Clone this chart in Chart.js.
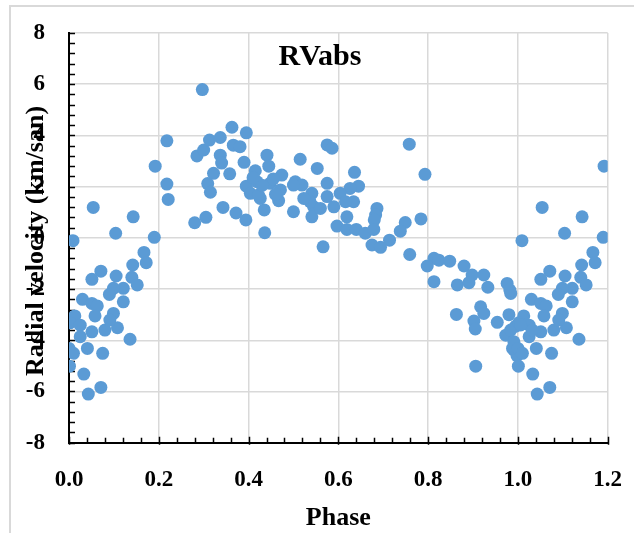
<!DOCTYPE html>
<html>
<head>
<meta charset="utf-8">
<title>RVabs</title>
<script src="https://cdn.jsdelivr.net/npm/chart.js@4.4.1/dist/chart.umd.min.js"></script>
<style>
    html, body { margin: 0; padding: 0; background: #ffffff; }
    #wrap { width: 634px; height: 533px; }
</style>
</head>
<body>
<div id="wrap"><canvas id="rvChart" width="634" height="533"></canvas></div>
<script>
// ============================================
// DATA
// ============================================
const CHART_TITLE = "RVabs";
const X_LABEL = "Phase";
const Y_LABEL = "Radial velocity (km/san)";

const xTicks = [0.0, 0.2, 0.4, 0.6, 0.8, 1.0, 1.2];
const yTicks = [-8, -6, -4, -2, 0, 2, 4, 6, 8];

// one full cycle, phase 0..1
const phase = [
    0.009, 0.054, 0.104, 0.143, 0.190, 0.167, 0.172, 0.142, 0.071, 0.051,
    0.105, 0.140, 0.152, 0.121, 0.099, 0.090, 0.121, 0.030, 0.051, 0.063,
    0.099, 0.058, 0.013, 0.002, 0.025, 0.051, 0.080, 0.108, 0.091, 0.136,
    0.000, 0.010, 0.041, 0.075, 0.025, 0.001, 0.033, 0.043, 0.071, 0.192,
    0.218, 0.218, 0.221,
    0.280, 0.305, 0.297, 0.285, 0.300, 0.313, 0.337, 0.363, 0.395, 0.366,
    0.381, 0.337, 0.340, 0.322, 0.358, 0.309, 0.315, 0.343, 0.372, 0.394,
    0.436, 0.435, 0.390, 0.441, 0.445, 0.415, 0.395, 0.419, 0.448, 0.404,
    0.426, 0.422, 0.471, 0.474, 0.467, 0.500, 0.504, 0.519, 0.515, 0.553,
    0.541, 0.545, 0.541, 0.537, 0.523, 0.500, 0.455, 0.430, 0.410, 0.460,
    0.575, 0.586, 0.758, 0.636, 0.793, 0.575, 0.645, 0.626, 0.604, 0.575,
    0.634, 0.616, 0.590, 0.560, 0.686, 0.683, 0.619, 0.680, 0.749, 0.784,
    0.597, 0.619, 0.640, 0.660, 0.679, 0.738, 0.714, 0.675, 0.694, 0.566,
    0.759,
    0.813, 0.798, 0.824, 0.848, 0.813, 0.880, 0.898, 0.924, 0.865, 0.891,
    0.933, 0.976, 0.984, 0.917, 0.924, 0.863, 0.902, 0.905, 0.954, 0.980,
    0.973, 0.995, 0.991, 0.998, 0.906, 0.988, 0.984, 0.991, 0.982
];
const rv = [
    -0.11, 1.19, 0.18, 0.82, 0.02, -0.57, -0.97, -1.06, -1.30, -1.62,
    -1.49, -1.54, -1.84, -1.97, -1.97, -2.21, -2.50, -2.40, -2.56, -2.66,
    -2.95, -3.05, -3.05, -3.32, -3.41, -3.67, -3.60, -3.51, -3.21, -3.96,
    -4.32, -4.51, -4.32, -4.51, -3.86, -5.01, -5.32, -6.10, -5.84, 2.80,
    3.79, 2.10, 1.50,
    0.59, 0.80, 5.79, 3.20, 3.43, 3.82, 3.92, 4.32, 4.10, 3.62,
    3.56, 3.23, 2.92, 2.52, 2.50, 2.12, 1.78, 1.19, 0.97, 0.70,
    0.20, 1.09, 2.95, 3.23, 2.80, 2.62, 2.02, 2.19, 2.13, 1.74,
    1.54, 1.67, 1.87, 2.45, 1.45, 1.02, 2.19, 2.06, 3.07, 2.71,
    1.74, 1.21, 0.82, 1.41, 1.54, 2.06, 2.30, 2.05, 2.35, 1.70,
    3.63, 3.50, 3.66, 2.56, 2.48, 2.13, 2.02, 1.93, 1.74, 1.61,
    1.41, 1.41, 1.21, 1.15, 1.15, 0.89, 0.82, 0.70, 0.60, 0.74,
    0.46, 0.33, 0.33, 0.18, 0.33, 0.26, -0.09, -0.28, -0.37, -0.35,
    -0.65,
    -0.80, -1.10, -0.87, -0.91, -1.71, -1.10, -1.45, -1.45, -1.84, -1.75,
    -1.93, -1.78, -2.17, -2.69, -2.95, -2.99, -3.25, -3.56, -3.30, -3.00,
    -3.80, -3.45, -4.38, -4.60, -5.01, -4.32, -3.60, -4.06, -2.04
];

// the repeated start of the cycle shown again past phase 1.0
const phaseRepeat = [
    1.009, 1.054, 1.104, 1.143, 1.190, 1.167, 1.172, 1.142, 1.071, 1.051,
    1.105, 1.140, 1.152, 1.121, 1.099, 1.090, 1.121, 1.030, 1.051, 1.063,
    1.099, 1.058, 1.013, 1.002, 1.025, 1.051, 1.080, 1.108, 1.091, 1.136,
    1.000, 1.010, 1.041, 1.075, 1.025, 1.001, 1.033, 1.043, 1.071, 1.192,
    1.032, 1.006
];
const rvRepeat = [
    -0.11, 1.19, 0.18, 0.82, 0.02, -0.57, -0.97, -1.06, -1.30, -1.62,
    -1.49, -1.54, -1.84, -1.97, -1.97, -2.21, -2.50, -2.40, -2.56, -2.66,
    -2.95, -3.05, -3.05, -3.32, -3.41, -3.67, -3.60, -3.51, -3.21, -3.96,
    -4.32, -4.51, -4.32, -4.51, -3.86, -5.01, -5.32, -6.10, -5.84, 2.80,
    -3.60, -3.40
];

// ============================================
// STYLE
// ============================================
const FONT_FAMILY = '"Liberation Serif", "Times New Roman", serif';
const POINT_COLOR = "#5b9bd5";
const GRID_COLOR = "#d9d9d9";

// plot area edges in the reference (pixels)
const PLOT_LEFT = 69;
const PLOT_RIGHT = 607.7;
const PLOT_TOP = 33;
const PLOT_BOTTOM = 442.7;

const points = phase.map((p, i) => ({ x: p, y: rv[i] }))
    .concat(phaseRepeat.map((p, i) => ({ x: p, y: rvRepeat[i] })));

// ============================================
// PLUGIN: outer frame, minor ticks, titles
// ============================================
const decorations = {
    id: "decorations",
    beforeDraw(chart) {
        const ctx = chart.ctx;
        ctx.save();
        ctx.fillStyle = "#ffffff";
        ctx.fillRect(0, 0, chart.width, chart.height);
        ctx.strokeStyle = GRID_COLOR;
        ctx.lineWidth = 2;
        ctx.beginPath();
        ctx.moveTo(10, chart.height);
        ctx.lineTo(10, 6);
        ctx.lineTo(chart.width, 6);
        ctx.stroke();
        ctx.restore();
    },
    beforeDatasetsDraw(chart) {
        const ctx = chart.ctx;
        const xs = chart.scales.x;
        const ys = chart.scales.y;
        const area = chart.chartArea;
        ctx.save();
        ctx.strokeStyle = "#000000";
        ctx.lineWidth = 1.5;
        ctx.beginPath();
        // y ticks every 0.4, pointing into the plot
        for (let k = 0; k <= 40; k++) {
            const py = Math.round(ys.getPixelForValue(-8 + k * 0.4)) + 0.5;
            ctx.moveTo(area.left, py);
            ctx.lineTo(area.left + 6, py);
        }
        // x ticks every 0.04, pointing up; majors cross the axis
        for (let k = 0; k <= 30; k++) {
            const px = Math.round(xs.getPixelForValue(k * 0.04)) + 0.5;
            const major = k % 5 === 0;
            ctx.moveTo(px, area.bottom + (major ? 2 : 0));
            ctx.lineTo(px, area.bottom - (major ? 6 : 5));
        }
        ctx.stroke();
        ctx.restore();
    },
    afterDraw(chart) {
        const ctx = chart.ctx;
        const area = chart.chartArea;
        ctx.save();
        ctx.fillStyle = "#000000";
        ctx.textAlign = "center";
        ctx.textBaseline = "alphabetic";

        ctx.font = "bold 30px " + FONT_FAMILY;
        ctx.fillText(CHART_TITLE, 320, 65);

        ctx.font = "bold 26px " + FONT_FAMILY;
        ctx.fillText(X_LABEL, (area.left + area.right) / 2, 525);

        ctx.translate(43, 241);
        ctx.rotate(-Math.PI / 2);
        ctx.fillText(Y_LABEL, 0, 0);
        ctx.restore();
    }
};

// ============================================
// CHART
// ============================================
const ctx = document.getElementById("rvChart").getContext("2d");
new Chart(ctx, {
    type: "scatter",
    data: {
        datasets: [{
            label: "RVabs",
            data: points,
            backgroundColor: POINT_COLOR,
            borderColor: POINT_COLOR,
            borderWidth: 0,
            pointRadius: 6.5,
            pointHoverRadius: 6.5
        }]
    },
    options: {
        responsive: false,
        animation: false,
        layout: {
            autoPadding: false,
            padding: { top: PLOT_TOP, right: 634 - PLOT_RIGHT, left: 0, bottom: 0 }
        },
        plugins: {
            legend: { display: false },
            title: { display: false },
            tooltip: { enabled: false }
        },
        scales: {
            x: {
                type: "linear",
                min: 0,
                max: 1.2,
                afterBuildTicks: scale => { scale.ticks = xTicks.map(v => ({ value: v })); },
                afterFit: scale => {
                    // fixed plot area: the labels may hang over the padding
                    scale.height = 533 - PLOT_BOTTOM;
                    scale.paddingLeft = 0;
                    scale.paddingRight = 0;
                },
                ticks: {
                    callback: v => Number(v).toFixed(1),
                    color: "#000000",
                    padding: 24,
                    maxRotation: 0,
                    font: { family: FONT_FAMILY, size: 23, weight: "bold" }
                },
                grid: { color: GRID_COLOR, lineWidth: 1.5, drawTicks: false },
                border: { color: "#000000", width: 2 }
            },
            y: {
                type: "linear",
                min: -8,
                max: 8,
                afterBuildTicks: scale => { scale.ticks = yTicks.map(v => ({ value: v })); },
                afterFit: scale => {
                    scale.width = PLOT_LEFT;
                    scale.paddingTop = 0;
                    scale.paddingBottom = 0;
                },
                ticks: {
                    callback: v => String(v),
                    color: "#000000",
                    padding: 24,
                    font: { family: FONT_FAMILY, size: 23, weight: "bold" }
                },
                grid: { color: GRID_COLOR, lineWidth: 1.5, drawTicks: false },
                border: { color: "#000000", width: 2 }
            }
        }
    },
    plugins: [decorations]
});
</script>
</body>
</html>
